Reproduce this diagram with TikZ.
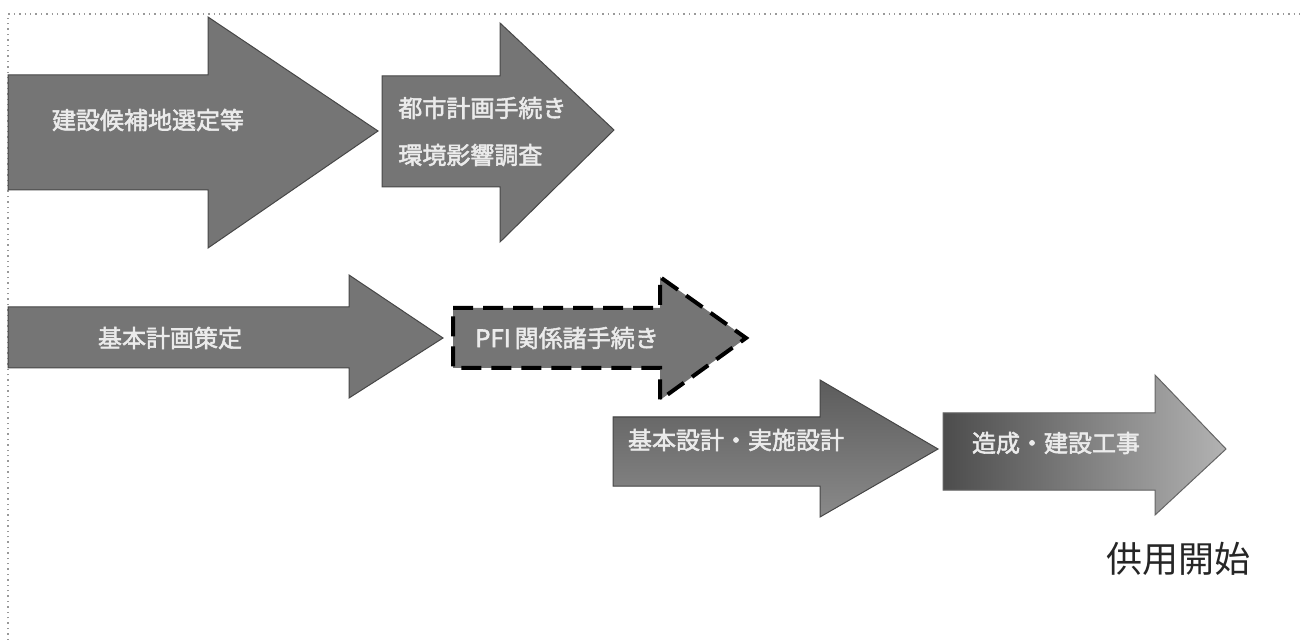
\documentclass[tikz,border=0pt]{standalone}
\usepackage{fontspec}
\newfontfamily\jp{Noto Sans CJK JP}
\newfontfamily\jpb{Noto Sans CJK JP}[FakeBold=2.2]
\begin{document}
\begin{tikzpicture}[x=0.5pt,y=-0.5pt,
  arrowshape/.style={fill=black!54,draw=black!72,line width=0.5pt,line join=miter},
  arrowlabel/.style={text=black!8,font=\jpb\fontsize{12}{14}\selectfont,inner sep=0pt},
  framerule/.style={draw=black!40,line width=0.7pt,dotted}]
\useasboundingbox[fill=white] (0,0) rectangle (1304,640);
% frame
\coordinate (fa) at (8,640);
\coordinate (fb) at (8,14);
\coordinate (fc) at (1304,14);
\draw[framerule] (fa) -- (fb) -- (fc);
% arrow 1
\path[arrowshape] (8,75) -- (208,75) -- (208,17) -- (378,131) -- (208,248) -- (208,190) -- (8,190) -- cycle;
% arrow 2
\path[arrowshape] (382,76) -- (500,76) -- (500,23) -- (614,130) -- (500,242) -- (500,187) -- (382,187) -- cycle;
% arrow 3
\path[arrowshape] (8,307) -- (349,307) -- (349,275) -- (443,338) -- (349,398) -- (349,368) -- (8,368) -- cycle;
% arrow 4 (dashed)
\path[arrowshape,draw=black,line width=2pt,dash pattern=on 10pt off 5pt] (453,308) -- (660,308) -- (660,277) -- (746,338) -- (660,400) -- (660,368) -- (453,368) -- cycle;
% arrow 5
\path[arrowshape,top color=black!64,bottom color=black!46] (613,417) -- (820,417) -- (820,380) -- (938,449) -- (820,517) -- (820,486) -- (613,486) -- cycle;
% arrow 6
\path[arrowshape,draw=black!60,left color=black!70,right color=black!30] (943,413) -- (1155,413) -- (1155,375) -- (1226,449) -- (1155,515) -- (1155,490) -- (943,490) -- cycle;
% labels
\node[arrowlabel] (t1) at (148,120) {建設候補地選定等};
\node[arrowlabel,anchor=west] (t2a) at (398,108) {都市計画手続き};
\node[arrowlabel,anchor=west] (t2b) at (398,155) {環境影響調査};
\node[arrowlabel] (t3) at (170,338) {基本計画策定};
\node[arrowlabel] (t4) at (567,338) {PFI\,関係諸手続き};
\node[arrowlabel] (t5) at (736,440) {基本設計・実施設計};
\node[arrowlabel] (t6) at (1056,443) {造成・建設工事};
\node[font=\jp\fontsize{18}{20}\selectfont,text=black!85,inner sep=0pt] (t7) at (1178,559) {供用開始};
\end{tikzpicture}
\end{document}
